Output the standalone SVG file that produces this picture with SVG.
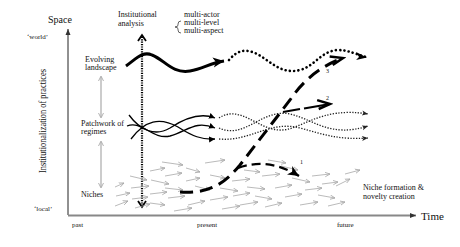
<svg xmlns="http://www.w3.org/2000/svg" width="460" height="247" viewBox="0 0 460 247">
<style>
text{font-family:"Liberation Serif","Times New Roman",serif;fill:#111}
.t8{font-size:8px}
.t7{font-size:7px}
.ga{stroke:#a8a8a8;stroke-width:0.8;fill:none;marker-end:url(#mga)}
.sol{stroke:#000;fill:none;stroke-width:1.3;marker-end:url(#msm)}
.dot{stroke:#222;fill:none;stroke-width:1.3;stroke-dasharray:1.3 1.5;marker-end:url(#mdot)}
.dash{stroke:#000;fill:none;stroke-width:3;stroke-dasharray:13 7}
</style>
<defs>
<marker id="mga" markerUnits="userSpaceOnUse" markerWidth="6" markerHeight="6" refX="5" refY="3" orient="auto"><path d="M0,0.8 L5,3 L0,5.2" fill="none" stroke="#a8a8a8" stroke-width="0.8"/></marker>
<marker id="msm" markerUnits="userSpaceOnUse" markerWidth="8" markerHeight="8" refX="6" refY="4" orient="auto"><path d="M0,1 L6,4 L0,7 Z" fill="#000"/></marker>
<marker id="mdot" markerUnits="userSpaceOnUse" markerWidth="8" markerHeight="8" refX="6" refY="4" orient="auto"><path d="M0,1.5 L6,4 L0,6.5 L1.5,4 Z" fill="#222"/></marker>
<marker id="mbig" markerUnits="userSpaceOnUse" markerWidth="14" markerHeight="12" refX="11" refY="6" orient="auto"><path d="M0,1 L11,6 L0,11 L3,6 Z" fill="#000"/></marker>
<marker id="mopen" markerUnits="userSpaceOnUse" markerWidth="16" markerHeight="14" refX="13" refY="7" orient="auto"><path d="M1,1 L13,7 L1,10" fill="none" stroke="#000" stroke-width="2.5" stroke-linejoin="miter"/></marker>
<marker id="mvert" markerUnits="userSpaceOnUse" markerWidth="10" markerHeight="10" refX="5" refY="5" orient="auto"><path d="M0,0.5 L5,5 L0,9.5" fill="none" stroke="#000" stroke-width="1.8"/></marker>
<marker id="maxis" markerUnits="userSpaceOnUse" markerWidth="8" markerHeight="8" refX="6" refY="4" orient="auto"><path d="M0,1.5 L6,4 L0,6.5 Z" fill="#333"/></marker>
<marker id="mgray2" markerUnits="userSpaceOnUse" markerWidth="6" markerHeight="6" refX="5" refY="3" orient="auto"><path d="M0,0.5 L5,3 L0,5.5" fill="none" stroke="#aaa" stroke-width="0.9"/></marker>
</defs>

<g id="axes">
<line x1="68" y1="215" x2="68" y2="29" stroke="#222" stroke-width="1" marker-end="url(#maxis)"/>
<line x1="68" y1="215.5" x2="416" y2="215.5" stroke="#888" stroke-width="2" marker-end="url(#maxis)"/>
<text x="48" y="23" style="font-size:10px">Space</text>
<text x="27" y="39" class="t7">‘world’</text>
<text x="34" y="211" class="t7">‘local’</text>
<text x="421" y="220" style="font-size:11px">Time</text>
<text x="72" y="227" class="t7">past</text>
<text x="197" y="227" class="t7">present</text>
<text x="337" y="227" class="t7">future</text>
<text transform="translate(46,173) rotate(-90)" style="font-size:11px" textLength="104" lengthAdjust="spacingAndGlyphs">Institutionalization of practices</text>
</g>

<g id="institutional-analysis">
<text x="118" y="17" class="t8">Institutional</text>
<text x="118" y="25.5" class="t8">analysis</text>
<line x1="142" y1="206" x2="142" y2="35" stroke="#000" stroke-width="2.2" stroke-dasharray="1.2 1.2"/>
<path d="M138,41 L142,35 L146,41" fill="none" stroke="#000" stroke-width="1.8"/>
<path d="M138,201 L142,207 L146,201" fill="none" stroke="#000" stroke-width="1.8"/>
</g>

<g id="multi">
<text x="184" y="17" class="t8">multi-actor</text>
<text x="184" y="25" class="t8">multi-level</text>
<text x="184" y="33" class="t8">multi-aspect</text>
<path d="M181,21 Q178,21 178,24 L178,25 Q178,27 175,27 Q178,27 178,29 L178,30 Q178,33 181,33" fill="none" stroke="#222" stroke-width="0.7"/>
</g>

<g id="landscape">
<text x="85" y="62" class="t8">Evolving</text>
<text x="85" y="70" class="t8">landscape</text>
<path d="M126,66 C137,58 143,51 152,55 C165,60 172,74 190,71 C203,69 210,63 224,61" fill="none" stroke="#000" stroke-width="3" marker-end="url(#mbig)"/>
<path d="M229,60 C236,52 243,48 255,53 C270,60 280,75 300,70 C315,66 320,52 337,50 C348,50 352,53 366,57" fill="none" stroke="#000" stroke-width="2.6" stroke-dasharray="0.1 4.2" stroke-linecap="round"/>
<path d="M356,52 L367,57.5 L356,60 L359,57 Z" fill="#000"/>
</g>

<g id="regimes">
<text x="81" y="126" class="t8">Patchwork of</text>
<text x="81" y="134" class="t8">regimes</text>
<path class="sol" d="M129,115 C140,130 155,137 170,128 C185,118 200,112 215,118"/>
<path class="sol" d="M131,139 C145,120 160,117 178,127 C192,136 202,140 215,139"/>
<path class="sol" d="M127,126 C142,120 152,140 170,136 C188,131 195,120 215,128"/>
<path class="dot" d="M219,118 C240,104 258,130 280,130 C300,131 320,106 368,114"/>
<path class="dot" d="M219,128 C245,140 262,108 290,114 C315,120 330,138 368,126"/>
<path class="dot" d="M219,139 C250,142 270,120 300,128 C325,135 340,140 368,138"/>
</g>

<g id="niches">
<text x="81" y="197" class="t8">Niches</text>
<text x="363" y="190" class="t8">Niche formation &amp;</text>
<text x="363" y="199" class="t8">novelty creation</text>
<line class="ga" x1="115" y1="187" x2="124" y2="183"/>
<line class="ga" x1="116" y1="196" x2="130" y2="193"/>
<line class="ga" x1="115" y1="206" x2="128" y2="201"/>
<line class="ga" x1="130" y1="176" x2="147" y2="180"/>
<line class="ga" x1="131" y1="188" x2="149" y2="186"/>
<line class="ga" x1="132" y1="199" x2="148" y2="197"/>
<line class="ga" x1="135" y1="208" x2="150" y2="204"/>
<line class="ga" x1="150" y1="171" x2="165" y2="168"/>
<line class="ga" x1="151" y1="180" x2="169" y2="184"/>
<line class="ga" x1="150" y1="194" x2="167" y2="192"/>
<line class="ga" x1="150" y1="203" x2="165" y2="205"/>
<line class="ga" x1="165" y1="176" x2="182" y2="173"/>
<line class="ga" x1="165" y1="188" x2="183" y2="190"/>
<line class="ga" x1="168" y1="198" x2="185" y2="196"/>
<line class="ga" x1="162" y1="162" x2="183" y2="165"/>
<line class="ga" x1="186" y1="168" x2="200" y2="172"/>
<line class="ga" x1="186" y1="181" x2="200" y2="178"/>
<line class="ga" x1="188" y1="205" x2="205" y2="201"/>
<line class="ga" x1="195" y1="186" x2="210" y2="190"/>
<line class="ga" x1="205" y1="163" x2="225" y2="160"/>
<line class="ga" x1="210" y1="175" x2="225" y2="178"/>
<line class="ga" x1="210" y1="200" x2="228" y2="197"/>
<line class="ga" x1="220" y1="188" x2="238" y2="191"/>
<line class="ga" x1="244" y1="170" x2="260" y2="172"/>
<line class="ga" x1="232" y1="181" x2="250" y2="179"/>
<line class="ga" x1="233" y1="196" x2="250" y2="193"/>
<line class="ga" x1="240" y1="205" x2="258" y2="202"/>
<line class="ga" x1="247" y1="187" x2="265" y2="189"/>
<line class="ga" x1="262" y1="176" x2="280" y2="174"/>
<line class="ga" x1="255" y1="196" x2="272" y2="199"/>
<line class="ga" x1="265" y1="207" x2="282" y2="203"/>
<line class="ga" x1="275" y1="188" x2="292" y2="185"/>
<line class="ga" x1="281" y1="166" x2="298" y2="170"/>
<line class="ga" x1="285" y1="197" x2="302" y2="194"/>
<line class="ga" x1="292" y1="178" x2="310" y2="182"/>
<line class="ga" x1="300" y1="205" x2="318" y2="202"/>
<line class="ga" x1="305" y1="190" x2="322" y2="188"/>
<line class="ga" x1="312" y1="176" x2="330" y2="174"/>
<line class="ga" x1="318" y1="195" x2="335" y2="198"/>
<line class="ga" x1="322" y1="184" x2="338" y2="182"/>
<line class="ga" x1="328" y1="206" x2="345" y2="202"/>
<line class="ga" x1="336" y1="186" x2="350" y2="179"/>
<line class="ga" x1="345" y1="174" x2="360" y2="170"/>
<line class="ga" x1="222" y1="209" x2="240" y2="206"/>
<line class="ga" x1="174" y1="211" x2="192" y2="208"/>
<line class="ga" x1="268" y1="160" x2="286" y2="163"/>
</g>

<g id="gray-arrows">
<line x1="101" y1="77" x2="101" y2="117" stroke="#aaa" stroke-width="1.2"/>
<path d="M98.5,81 L101,76 L103.5,81 M98.5,113 L101,118 L103.5,113" fill="none" stroke="#aaa" stroke-width="0.9"/>
<line x1="101" y1="142" x2="101" y2="187" stroke="#aaa" stroke-width="1.2"/>
<path d="M98.5,146 L101,141 L103.5,146 M98.5,183 L101,188 L103.5,183" fill="none" stroke="#aaa" stroke-width="0.9"/>
</g>

<g id="connectors">
<path class="dash" d="M180,192 C210,194 225,183 240,165 L290,100 Q310,70 343,58" marker-end="url(#mopen)"/>
<path d="M238,168 Q268,157 299,176" fill="none" stroke="#000" stroke-width="2.3" stroke-dasharray="9 5" marker-end="url(#mbig)"/>
<path d="M283,112 L300,109 M304,108.5 L330,104" fill="none" stroke="#000" stroke-width="2.2" marker-end="url(#mopen)"/>
<text x="300" y="164" style="font-size:6px">1</text>
<text x="326" y="100" style="font-size:6px">2</text>
<text x="326" y="73" style="font-size:6px">3</text>
</g>
</svg>
